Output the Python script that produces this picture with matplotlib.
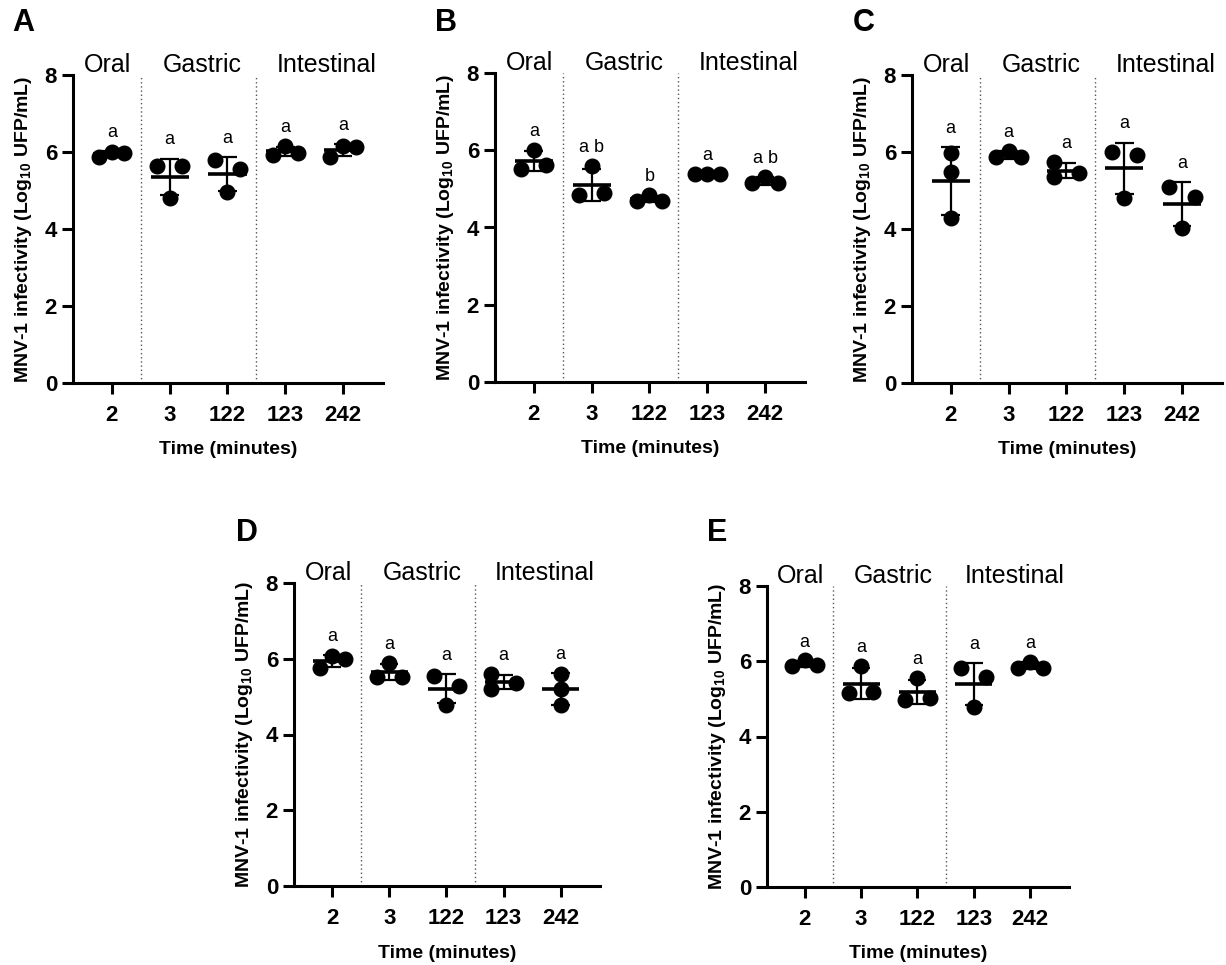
import numpy as np
import matplotlib
matplotlib.use("Agg")
import matplotlib.pyplot as plt

plt.rcParams["font.family"] = ["Liberation Sans", "DejaVu Sans"]
plt.rcParams["mathtext.fontset"] = "custom"
plt.rcParams["mathtext.rm"] = "Liberation Sans"
plt.rcParams["mathtext.bf"] = "Liberation Sans:bold"

# sampling times (minutes) and digestion phases
times = ["2", "3", "122", "123", "242"]
phases = ["Oral", "Gastric", "Intestinal"]

# MNV-1 infectivity, log10 UFP/mL, three replicates per time point
panel_a = [[5.86, 5.98, 6.00], [5.63, 5.63, 4.81], [5.80, 5.55, 4.95],
           [5.92, 5.98, 6.15], [5.87, 6.12, 6.15]]
panel_b = [[5.52, 5.61, 6.01], [4.83, 4.89, 5.58], [4.69, 4.69, 4.83],
           [5.38, 5.38, 5.38], [5.15, 5.15, 5.31]]
panel_c = [[5.98, 5.49, 4.28], [5.86, 5.86, 6.03], [5.73, 5.46, 5.35],
           [6.00, 5.92, 4.81], [5.10, 4.84, 4.02]]
panel_d = [[5.75, 5.99, 6.08], [5.52, 5.52, 5.89], [5.55, 5.28, 4.79],
           [5.59, 5.36, 5.21], [5.61, 5.21, 4.77]]
panel_e = [[5.88, 5.90, 6.02], [5.15, 5.19, 5.88], [4.97, 5.02, 5.55],
           [5.83, 5.58, 4.78], [5.83, 5.83, 5.99]]

# significance letters
letters_a = ["a", "a", "a", "a", "a"]
letters_b = ["a", "a b", "b", "a", "a b"]
letters_c = ["a", "a", "a", "a", "a"]
letters_d = ["a", "a", "a", "a", "a"]
letters_e = ["a", "a", "a", "a", "a"]

W, H = 1226, 965


def spread(vals, step=0.22, gap=0.355):
    """Simple beeswarm: spread points that would overlap."""
    offsets, placed = [], []
    for i, v in enumerate(vals):
        crowded = any(abs(v - w) < gap for j, w in enumerate(vals) if j != i)
        off = 0.0
        if crowded:
            for cand in (-step, step, 0.0):
                hit = any(abs(cand - po) < step / 2 and abs(v - pv) < gap
                          for po, pv in placed)
                if not hit:
                    off = cand
                    break
        placed.append((off, v))
        offsets.append(off)
    return np.array(offsets)


def draw_panel(rect_px, groups, letters, tag, tag_xy):
    l, t, r, b = rect_px
    ax = fig.add_axes([l / W, 1 - b / H, (r - l) / W, (b - t) / H])

    for i, vals in enumerate(groups):
        vals = np.array(vals)
        m = vals.mean()
        sd = vals.std(ddof=1)
        ax.plot(i + spread(vals), vals, "o", color="black", ms=10.5,
                zorder=3, clip_on=False)
        ax.hlines(m, i - 0.33, i + 0.33, color="black", lw=2.6, zorder=4)
        ax.vlines(i, m - sd, m + sd, color="black", lw=1.6, zorder=4)
        ax.hlines([m - sd, m + sd], i - 0.16, i + 0.16, color="black",
                  lw=1.6, zorder=4)
        top = max(vals.max(), m + sd)
        ax.text(i, top + 0.37, letters[i], ha="center", va="baseline",
                fontsize=13)

    for x in (0.5, 2.5):
        ax.axvline(x, color="#555555", lw=1, ls=(0, (1, 2)))
    for x, name in zip((-0.07, 1.57, 3.72), phases):
        ax.text(x, 8.08, name, ha="center", va="baseline", fontsize=18,
                clip_on=False)

    ax.set_xlim(-0.67, 4.69)
    ax.set_ylim(0, 8)
    ax.set_xticks(range(len(times)))
    ax.set_xticklabels(times)
    ax.set_yticks([0, 2, 4, 6, 8])
    for s in ("top", "right"):
        ax.spines[s].set_visible(False)
    for s in ("left", "bottom"):
        ax.spines[s].set_linewidth(2.2)
    ax.tick_params(width=2.2, length=8, labelsize=16)
    ax.tick_params(axis="x", pad=8)
    for lab in ax.get_xticklabels() + ax.get_yticklabels():
        lab.set_fontweight("bold")
    ax.set_xlabel("Time (minutes)", fontsize=14, fontweight="bold",
                  labelpad=11)
    ax.set_ylabel(r"MNV-1 infectivity (Log$_{\mathbf{10}}$ UFP/mL)",
                  fontsize=14, fontweight="bold", labelpad=8)

    fig.text(tag_xy[0] / W, 1 - tag_xy[1] / H, tag, fontsize=22,
             fontweight="bold", ha="left", va="top")
    return ax


fig = plt.figure(figsize=(W / 100, H / 100), dpi=100)

draw_panel((73, 75, 383, 383), panel_a, letters_a, "A", (12, 8))
draw_panel((495, 73, 805, 382), panel_b, letters_b, "B", (435, 8))
draw_panel((912, 75, 1222, 383), panel_c, letters_c, "C", (853, 8))
draw_panel((294, 583, 600, 886), panel_d, letters_d, "D", (236, 518))
draw_panel((767, 586, 1069, 887), panel_e, letters_e, "E", (707, 518))

fig.savefig("out.png", dpi=100)
